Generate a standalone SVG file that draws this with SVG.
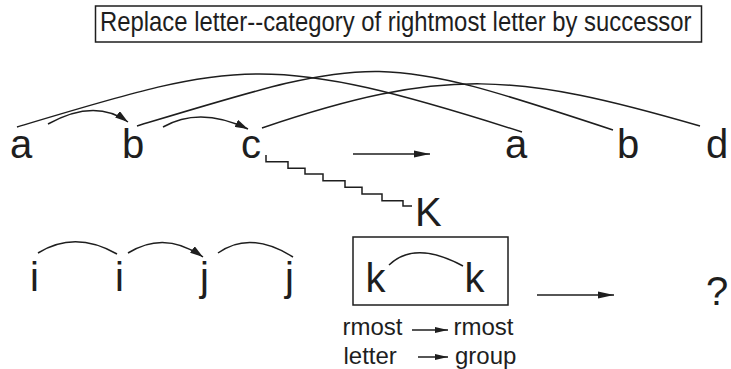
<svg xmlns="http://www.w3.org/2000/svg" width="731" height="369" viewBox="0 0 731 369">
<style>
  .lt { font-family: "Liberation Sans", Arial, sans-serif; font-size: 40px; fill: #1e1e1e; }
  .sm { font-family: "Liberation Sans", Arial, sans-serif; font-size: 24px; fill: #1e1e1e; }
  .ti { font-family: "Liberation Sans", Arial, sans-serif; font-size: 24px; fill: #1e1e1e; }
  .ln { fill: none; stroke: #1e1e1e; stroke-width: 1.5; }
  .bx { fill: none; stroke: #1e1e1e; stroke-width: 1.5; }
</style>
<defs>
  <marker id="ah" markerUnits="userSpaceOnUse" markerWidth="14" markerHeight="8" refX="13" refY="4" orient="auto">
    <path d="M0,0 L13,4 L0,8 z" fill="#1e1e1e"/>
  </marker>
  <marker id="ahL" markerUnits="userSpaceOnUse" markerWidth="16" markerHeight="8" refX="16" refY="4" orient="auto">
    <path d="M0,0.5 L16,4 L0,7.5 z" fill="#1e1e1e"/>
  </marker>
  <marker id="ahS" markerUnits="userSpaceOnUse" markerWidth="13" markerHeight="6" refX="13" refY="3" orient="auto">
    <path d="M0,0 L13,3 L0,6 z" fill="#1e1e1e"/>
  </marker>
</defs>

<g id="title">
  <rect class="bx" x="95.5" y="6" width="606" height="36"/>
  <text class="ti" transform="translate(100,31) scale(0.995,1.12)" x="0" y="0">Replace letter--category of rightmost letter by successor</text>
</g>

<g id="row1">
  <g id="n-a1"><text class="lt" x="10" y="158">a</text></g>
  <g id="n-b1"><text class="lt" x="122" y="158">b</text></g>
  <g id="n-c1"><text class="lt" x="241" y="158">c</text></g>
  <g id="n-a2"><text class="lt" x="505" y="158">a</text></g>
  <g id="n-b2"><text class="lt" x="617" y="158">b</text></g>
  <g id="n-d2"><text class="lt" x="706" y="158">d</text></g>
  <g id="n-K"><text class="lt" x="415" y="226">K</text></g>
</g>

<g id="row2">
  <g id="n-i1"><text class="lt" x="30" y="291">i</text></g>
  <g id="n-i2"><text class="lt" x="115" y="291">i</text></g>
  <g id="n-j1"><text class="lt" x="200" y="291">j</text></g>
  <g id="n-j2"><text class="lt" x="285" y="291">j</text></g>
  <g id="n-kgroup">
    <rect class="bx" x="353" y="237" width="155" height="68"/>
    <text class="lt" x="365.5" y="292">k</text>
    <text class="lt" x="464.5" y="292">k</text>
  </g>
  <g id="n-q"><text class="lt" x="706" y="305">?</text></g>
  <g id="n-desc">
    <text class="sm" x="342.5" y="335">rmost</text>
    <text class="sm" x="453.5" y="335">rmost</text>
    <text class="sm" x="343.5" y="364">letter</text>
    <text class="sm" x="455" y="364">group</text>
  </g>
</g>

<g id="connectors">
  <path class="ln" d="M17,127 C237,61 265,50 522,132"/>
  <path class="ln" d="M137,126 C376,54 374,51 613,130"/>
  <path class="ln" d="M262,128 C445,66 517,73 700,126"/>
  <path class="ln" d="M48,124 Q95,98 128,122" marker-end="url(#ah)"/>
  <path class="ln" d="M163,127 Q200,106 248,129" marker-end="url(#ah)"/>
  <path class="ln" d="M266,155 V161.7 H288 V168.3 H305 V174 H323 V180.7 H345 V187.3 H362 V194 H382 V200.7 H403 V206 H412"/>
  <path class="ln" d="M353,154 H430" marker-end="url(#ahL)"/>
  <path class="ln" d="M537,295 H614" marker-end="url(#ahL)"/>
  <path class="ln" d="M38,253 Q75,230 117,254"/>
  <path class="ln" d="M128,253 Q165,230 203,257" marker-end="url(#ah)"/>
  <path class="ln" d="M218,253 Q250,230 293,257"/>
  <path class="ln" d="M389,265 Q415,240 463,266"/>
  <path class="ln" d="M412,330 H448" marker-end="url(#ahS)"/>
  <path class="ln" d="M418,357 H448" marker-end="url(#ahS)"/>
</g>
</svg>
